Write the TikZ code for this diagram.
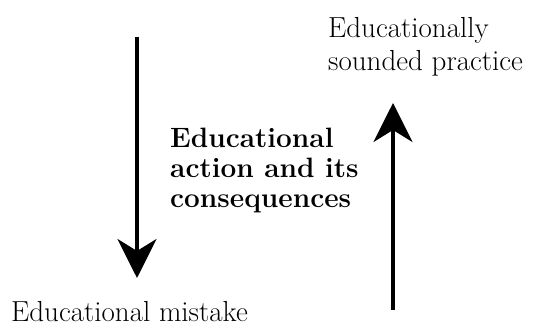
\documentclass[tikz,border=0pt]{standalone}
\usepackage{fontspec}
\usetikzlibrary{arrows.meta}

\begin{document}
\begin{tikzpicture}[x=1pt, y=-1pt]
   \useasboundingbox (0,0) rectangle (551,326);
   \tikzset{pfeil/.style={line width=3.5pt, -{Stealth[length=39pt, width=39pt, inset=12pt]}},
            schrift/.style={inner sep=0pt, font=\fontsize{29}{33.5}\selectfont}}
   \node[schrift, anchor=north west, align=left] (praxis) at (328,16.9) {Educationally\\sounded practice};
   \node[schrift, anchor=north west, align=left, font=\bfseries\fontsize{28}{30}\selectfont] (handlung) at (170,127.6) {Educational\\action and its\\consequences};
   \node[schrift, anchor=base west] (fehler) at (11,321) {Educational mistake};
   \coordinate (ab1) at (137,37);
   \coordinate (ab2) at (137,278);
   \coordinate (auf1) at (393,310);
   \coordinate (auf2) at (393,103);
   \draw[pfeil] (ab1) -- (ab2);
   \draw[pfeil] (auf1) -- (auf2);
\end{tikzpicture}
\end{document}
